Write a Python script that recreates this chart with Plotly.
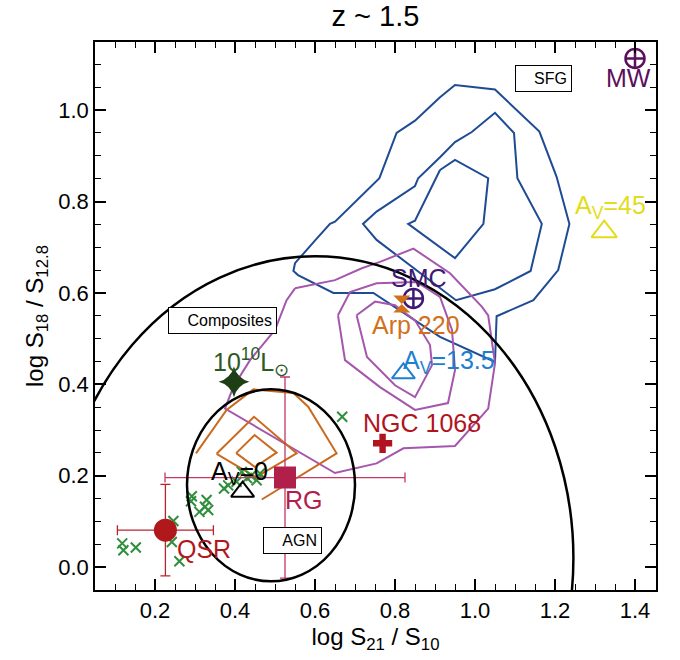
import plotly.graph_objects as go

# ---- density contours in (log S21/S10, log S18/S12.8) ----
sfg_outer_x = [0.9125, 0.85, 0.804, 0.761, 0.65, 0.6375, 0.6025, 0.55, 0.546, 0.5575, 0.646, 0.746,
               0.9125, 1.05, 1.054, 1.146, 1.208, 1.236, 1.204, 1.161, 1.05, 0.95, 0.9125]
sfg_outer_y = [1.028, 0.977, 0.950, 0.851, 0.756, 0.751, 0.717, 0.665, 0.648, 0.639, 0.600, 0.600,
               0.504, 0.449, 0.549, 0.584, 0.650, 0.751, 0.854, 0.953, 1.045, 1.055, 1.028]
sfg_mid_x = [0.9125, 0.858, 0.85, 0.754, 0.72, 0.754, 0.9525, 1.05, 1.139, 1.167, 1.106, 1.0975,
             1.05, 0.992, 0.95, 0.9125]
sfg_mid_y = [0.897, 0.851, 0.834, 0.778, 0.751, 0.716, 0.584, 0.608, 0.648, 0.751, 0.851, 0.950,
             0.994, 0.952, 0.930, 0.897]
sfg_inner_x = [0.9125, 0.90, 0.85, 0.833, 0.95, 1.021, 1.033, 0.95, 0.9125]
sfg_inner_y = [0.869, 0.847, 0.758, 0.751, 0.676, 0.751, 0.851, 0.891, 0.869]

comp_outer_x = [0.55, 0.529, 0.50, 0.4375, 0.396, 0.375, 0.65, 0.754, 0.821, 0.95, 1.033, 1.05,
                1.033, 1.017, 0.9375, 0.846, 0.7625, 0.717, 0.65, 0.55]
comp_outer_y = [0.610, 0.584, 0.519, 0.453, 0.395, 0.347, 0.206, 0.227, 0.260, 0.265, 0.347, 0.446,
                0.551, 0.570, 0.643, 0.697, 0.668, 0.654, 0.628, 0.610]
comp_mid_x = [0.6575, 0.6875, 0.754, 0.854, 0.9125, 0.9425, 0.95, 0.9325, 0.85, 0.7625, 0.675, 0.6575]
comp_mid_y = [0.551, 0.602, 0.621, 0.624, 0.591, 0.519, 0.431, 0.359, 0.344, 0.394, 0.453, 0.551]
comp_inner_x = [0.704, 0.75, 0.80, 0.85, 0.8875, 0.8925, 0.85, 0.80, 0.73, 0.704]
comp_inner_y = [0.551, 0.581, 0.573, 0.540, 0.486, 0.442, 0.372, 0.398, 0.460, 0.551]

agn_outer_x = [0.467, 0.654, 0.583, 0.546, 0.446, 0.379, 0.3025]
agn_outer_y = [0.148, 0.249, 0.351, 0.381, 0.389, 0.344, 0.249]
agn_mid_x = [0.354, 0.4475, 0.554, 0.4525, 0.354]
agn_mid_y = [0.248, 0.329, 0.249, 0.197, 0.248]
agn_inner_x = [0.403, 0.449, 0.504, 0.45, 0.403]
agn_inner_y = [0.2495, 0.289, 0.2505, 0.219, 0.2495]

# ---- individual AGN (green crosses) ----
agn_pts_x = [0.118, 0.121, 0.152, 0.246, 0.242, 0.261, 0.292, 0.29, 0.311, 0.329, 0.325, 0.333,
             0.3725, 0.383, 0.404, 0.417, 0.454, 0.4625, 0.668, 0.43, 0.44]
agn_pts_y = [0.052, 0.037, 0.043, 0.101, 0.055, 0.013, 0.155, 0.144, 0.121, 0.147, 0.132, 0.125,
             0.172, 0.179, 0.187, 0.2085, 0.190, 0.205, 0.329, 0.195, 0.2]

# ---- templates / reference objects ----
mw = (1.40, 1.113)
smc = (0.846, 0.588)
arp220 = (0.817, 0.5755)
av135 = (0.821, 0.424)
ngc1068 = (0.769, 0.271)
av45 = (1.323, 0.734)
lum10 = (0.3975, 0.4055)
av0 = (0.419, 0.165)
rg = (0.525, 0.196)
rg_err = (0.30, 0.22)
qsr = (0.226, 0.081)
qsr_err = (0.12, 0.10)

# region boundaries: (x centre, y centre, x radius, y radius)
composite_region = (0.60, 0.02, 0.646, 0.66)
agn_region = (0.49, 0.179, 0.21, 0.21)

BLUE = "#1f4b94"
PURPLE = "#a457ac"
ORANGE = "#c96a1f"
FONT = "Liberation Sans"

fig = go.Figure()


def contour(xs, ys, color):
    fig.add_trace(go.Scatter(x=xs, y=ys, mode="lines", line=dict(color=color, width=2),
                             hoverinfo="skip", showlegend=False))


for xs, ys in [(sfg_outer_x, sfg_outer_y), (sfg_mid_x, sfg_mid_y), (sfg_inner_x, sfg_inner_y)]:
    contour(xs, ys, BLUE)
for xs, ys in [(comp_outer_x, comp_outer_y), (comp_mid_x, comp_mid_y), (comp_inner_x, comp_inner_y)]:
    contour(xs, ys, PURPLE)
for xs, ys in [(agn_outer_x, agn_outer_y), (agn_mid_x, agn_mid_y), (agn_inner_x, agn_inner_y)]:
    contour(xs, ys, ORANGE)

for cx, cy, rx, ry in [composite_region, agn_region]:
    fig.add_shape(type="circle", xref="x", yref="y", x0=cx - rx, x1=cx + rx, y0=cy - ry, y1=cy + ry,
                  line=dict(color="black", width=2.5), layer="above")

fig.add_trace(go.Scatter(x=agn_pts_x, y=agn_pts_y, mode="markers",
                         marker=dict(symbol="x-thin", size=10, line=dict(color="#2f8f3c", width=2)),
                         showlegend=False))


def point(p, symbol, size, color, lw=2.0, err=None, ecolor=None):
    kw = {}
    if err is not None:
        kw["error_x"] = dict(type="data", array=[err[0]], color=ecolor, thickness=1.3, width=5)
        kw["error_y"] = dict(type="data", array=[err[1]], color=ecolor, thickness=1.3, width=5)
    fig.add_trace(go.Scatter(x=[p[0]], y=[p[1]], mode="markers",
                             marker=dict(symbol=symbol, size=size, color=color,
                                         line=dict(color=color, width=lw)),
                             showlegend=False, **kw))


point(rg, "square", 20, "#b0204b", err=rg_err, ecolor="#c4376a")
point(qsr, "circle", 21, "#b0181c", err=qsr_err, ecolor="#b8242c")
point(mw, "circle-cross-open", 19, "#5c0f5c", lw=2.5)
point(smc, "circle-cross-open", 19, "#3e1a74", lw=2.5)
point(arp220, "hourglass", 17, "#d2711a", lw=0)
point(av135, "triangle-up-open", 20, "#1c7fd0", lw=2)
point(ngc1068, "cross", 16, "#b0141e", lw=0)
point(av45, "triangle-up-open", 22, "#e2dc1a", lw=2)
point(lum10, "star-diamond", 22, "#1e3f16", lw=0)
point(av0, "triangle-up-open", 20, "black", lw=2)


def label(x, y, text, color, size=25):
    fig.add_annotation(x=x, y=y, xref="x", yref="y", text=text, showarrow=False,
                       font=dict(family=FONT, size=size, color=color), xanchor="center", yanchor="middle")


label(1.3825, 1.070, "MW", "#5c0f5c")
label(0.86, 0.632, "SMC", "#3e1a74")
label(0.8525, 0.5295, "Arp 220", "#d2711a")
label(0.935, 0.449, "A<sub>V</sub>=13.5", "#1c7fd0")
label(0.8675, 0.315, "NGC 1068", "#b0141e")
label(1.3375, 0.788, "A<sub>V</sub>=45", "#e2dc1a")
label(0.44, 0.449, "10<sup>10</sup>L<sub>⊙</sub>", "#2d5a24")
label(0.41, 0.206, "A<sub>V</sub>=0", "black")
label(0.5725, 0.148, "RG", "#b0204b")
label(0.3225, 0.039, "QSR", "#b0181c")


def box(x, y, text, w):
    fig.add_annotation(x=x, y=y, xref="x", yref="y", text=text, showarrow=False,
                       font=dict(family=FONT, size=16, color="black"), align="right",
                       width=w, height=17, borderpad=4, bordercolor="black", borderwidth=1,
                       bgcolor="white", xanchor="center", yanchor="middle")


box(1.17, 1.07, "SFG", 47)
box(0.3675, 0.540, "Composites", 99)
box(0.5425, 0.059, "AGN", 49)

axis_common = dict(showgrid=False, zeroline=False, showline=True, linecolor="black", linewidth=1.5,
                   mirror="ticks", ticks="inside", ticklen=11, tickwidth=1.5, tickcolor="black",
                   tickfont=dict(family=FONT, size=22, color="black"),
                   title_font=dict(family=FONT, size=24, color="black"))

fig.update_xaxes(range=[0.05, 1.4525], tickvals=[0.2, 0.4, 0.6, 0.8, 1.0, 1.2, 1.4], tickformat=".1f",
                 minor=dict(dtick=0.05, tick0=0.0, ticks="inside", ticklen=6, tickwidth=1, tickcolor="black"),
                 title_text="log S<sub>21</sub> / S<sub>10</sub>", title_standoff=6, **axis_common)
fig.update_yaxes(range=[-0.05, 1.149], tickvals=[0.0, 0.2, 0.4, 0.6, 0.8, 1.0], tickformat=".1f",
                 minor=dict(dtick=0.05, tick0=0.0, ticks="inside", ticklen=6, tickwidth=1, tickcolor="black"),
                 title_text="log S<sub>18</sub> / S<sub>12.8</sub>", title_standoff=8, **axis_common)

fig.update_layout(
    width=680, height=660,
    margin=dict(l=95, r=24, t=42, b=70),
    plot_bgcolor="white", paper_bgcolor="white",
    title=dict(text="z ~ 1.5", x=375.5 / 680, xanchor="center", y=1 - 16 / 660, yanchor="middle",
               font=dict(family=FONT, size=29, color="black")),
    showlegend=False,
)

fig.write_html("out.html")
